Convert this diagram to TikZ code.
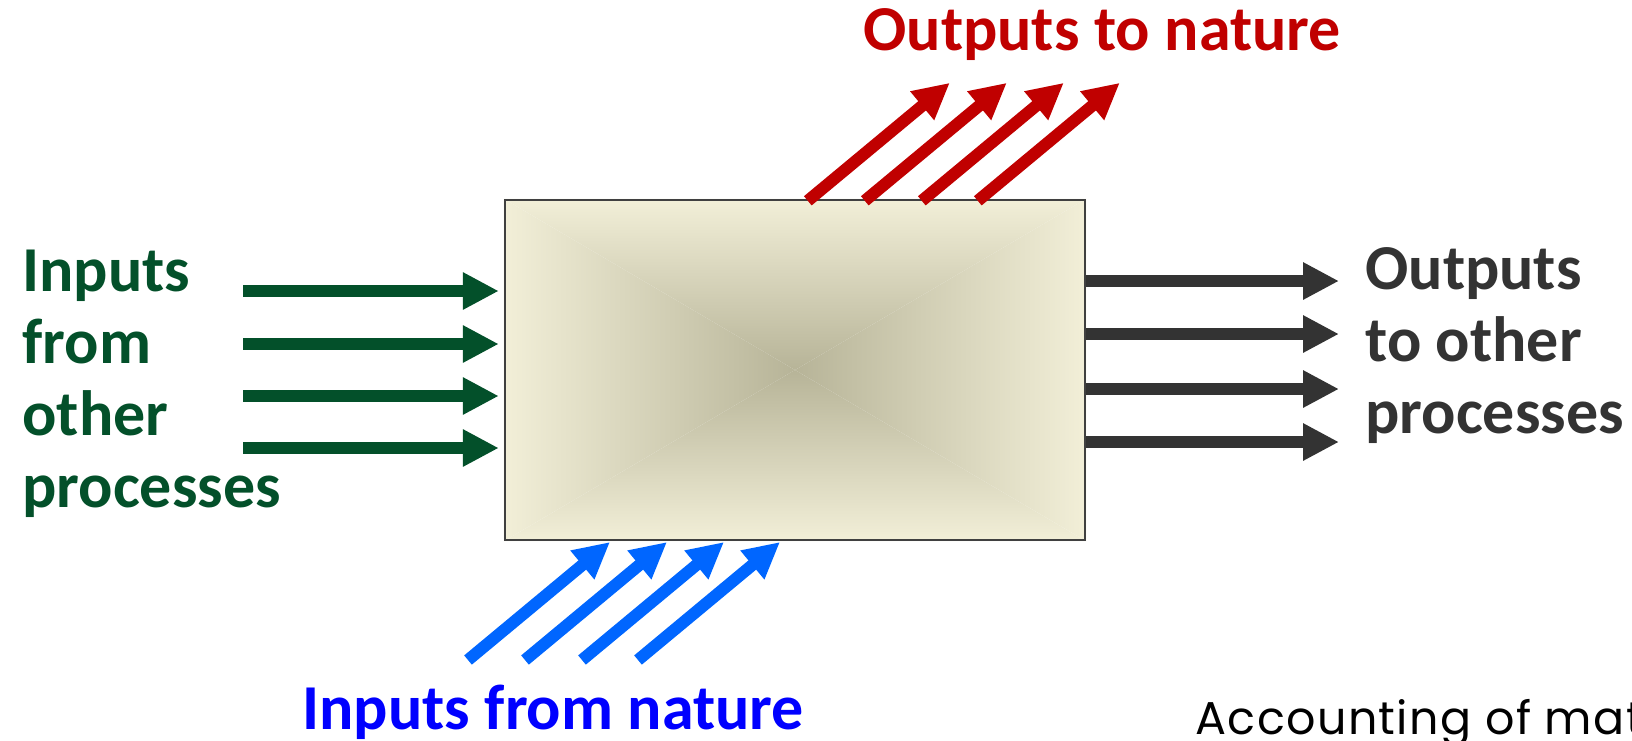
\documentclass[tikz,border=0pt]{standalone}
\usepackage{fontspec}
\setmainfont{Carlito}
\newfontfamily\gothicfont[LetterSpace=3]{Poppins}
\usepackage{xcolor}
\usetikzlibrary{arrows.meta,positioning,calc,backgrounds}
\definecolor{flowgreen}{HTML}{03502A}
\definecolor{flowgray}{HTML}{333333}
\definecolor{flowred}{HTML}{C00000}
\definecolor{flowblue}{HTML}{0066FF}
\definecolor{textblue}{HTML}{0000FF}
\definecolor{boxedge}{HTML}{F2EFD8}
\definecolor{boxcore}{HTML}{B7B498}
\definecolor{boxline}{HTML}{404040}

\begin{document}
\begin{tikzpicture}[
    x=0.5pt,y=-0.5pt,
    flow/.style   = {line width=6pt,-{Triangle[length=18pt,width=17.5pt]}},
    procbox/.style = {draw=boxline,line width=1.2pt,minimum width=290pt,
                      minimum height=170pt,inner sep=0pt},
    lbl/.style    = {font=\bfseries\fontsize{32}{36}\selectfont,align=left,
                     inner sep=0pt,anchor=base west},
  ]
  \useasboundingbox (0,0) rectangle (1632,740);

  % Le processus
  \node[procbox] (proc) at (795,370) {};
  \begin{scope}[on background layer]
    \shade[top color=boxedge,bottom color=boxcore]
      (proc.north west) -- (proc.north east) -- (proc.center) -- cycle;
    \shade[bottom color=boxedge,top color=boxcore]
      (proc.south west) -- (proc.south east) -- (proc.center) -- cycle;
    \shade[left color=boxedge,right color=boxcore]
      (proc.north west) -- (proc.south west) -- (proc.center) -- cycle;
    \shade[right color=boxedge,left color=boxcore]
      (proc.north east) -- (proc.south east) -- (proc.center) -- cycle;
  \end{scope}

  % Entrées d'autres processus
  \coordinate (in1) at (243,291);
  \coordinate (in2) at (243,344);
  \coordinate (in3) at (243,396);
  \coordinate (in4) at (243,448);
  \draw[flow,flowgreen,shorten >=2.5pt] (in1) -- (in1 -| proc.west);
  \draw[flow,flowgreen,shorten >=2.5pt] (in2) -- (in2 -| proc.west);
  \draw[flow,flowgreen,shorten >=2.5pt] (in3) -- (in3 -| proc.west);
  \draw[flow,flowgreen,shorten >=2.5pt] (in4) -- (in4 -| proc.west);
  \node[lbl,text=flowgreen] (lblin) at (22,507) {Inputs\\from\\other\\processes};

  % Sorties vers d'autres processus
  \coordinate (out1) at (1339,281);
  \coordinate (out2) at (1339,334);
  \coordinate (out3) at (1339,389);
  \coordinate (out4) at (1339,442);
  \draw[flow,flowgray] (out1 -| proc.east) -- (out1);
  \draw[flow,flowgray] (out2 -| proc.east) -- (out2);
  \draw[flow,flowgray] (out3 -| proc.east) -- (out3);
  \draw[flow,flowgray] (out4 -| proc.east) -- (out4);
  \node[lbl,text=flowgray] (lblout) at (1365,433) {Outputs\\to other\\processes};

  % Sorties vers la nature
  \draw[flow,flowred] ($(proc.north west)+(304,2)$) -- ++(142,-118);
  \draw[flow,flowred] ($(proc.north west)+(361,2)$) -- ++(142,-118);
  \draw[flow,flowred] ($(proc.north west)+(418,2)$) -- ++(142,-118);
  \draw[flow,flowred] ($(proc.north west)+(474,2)$) -- ++(142,-118);
  \node[lbl,text=flowred] (lblnatout) at (863,50) {Outputs to nature};

  % Entrées de la nature
  \coordinate (nin1) at (468,660);
  \coordinate (nin2) at (525,660);
  \coordinate (nin3) at (582,660);
  \coordinate (nin4) at (638,660);
  \draw[flow,flowblue] (nin1) -- ++(142,-118);
  \draw[flow,flowblue] (nin2) -- ++(142,-118);
  \draw[flow,flowblue] (nin3) -- ++(142,-118);
  \draw[flow,flowblue] (nin4) -- ++(142,-118);
  \node[lbl,text=textblue] (lblnatin) at (302,729) {Inputs from nature};

  \node[font=\gothicfont\fontsize{23}{26}\selectfont,inner sep=0pt,
        anchor=base west] (lblacc) at (1195,734) {Accounting of mat};

\end{tikzpicture}
\end{document}
